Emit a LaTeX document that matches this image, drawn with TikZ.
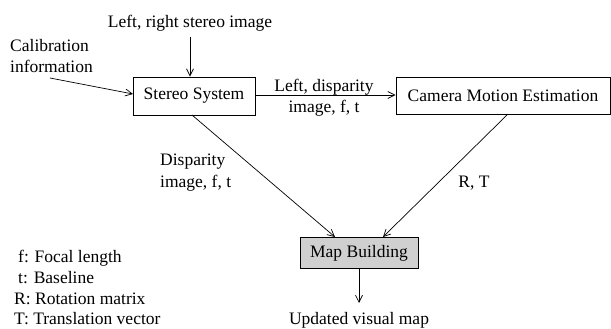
\documentclass[tikz,border=0pt]{standalone}
\usepackage{fontspec}
\setmainfont{Liberation Serif}
\usetikzlibrary{arrows.meta}
\begin{document}
\begin{tikzpicture}[x=1pt,y=-1pt,
  every node/.style={font=\fontsize{17.5}{21}\selectfont},
  box/.style={draw,line width=0.9pt,inner sep=0pt,anchor=center},
  txt/.style={inner sep=0pt},
  arr/.style={line width=0.7pt,-{Straight Barb[length=7pt,width=7pt,line width=0.7pt]}}]
\useasboundingbox (0,0) rectangle (611,329);
% boxes
\node[box,minimum width=122pt,minimum height=38pt] (ss) at (194,96) {Stereo System};
\node[box,minimum width=214pt,minimum height=37pt] (cme) at (503,95.5) {Camera Motion Estimation};
\node[box,fill={rgb,255:red,208;green,208;blue,208},minimum width=118pt,minimum height=31pt] (mb) at (359,253) {Map Building};
% inputs
\node[txt,anchor=base] (lr) at (190,28) {Left, right stereo image};
\coordinate (lrs) at (190,37);
\draw[arr] (lrs) -- (lrs |- ss.north);
\node[txt,anchor=base west] (cal1) at (10,52) {Calibration};
\node[txt,anchor=base west] (cal2) at (10,73) {information};
\coordinate (cals) at (50,78);
\coordinate (cale) at (133,94);
\draw[arr] (cals) -- (cale);
% ss -> cme
\draw[arr] (ss.east |- 0,95) -- (cme.west |- 0,95);
\node[txt,anchor=base] (l1) at (324,92) {Left, disparity};
\node[txt,anchor=base] (l2) at (324,113) {image, f, t};
% to map building
\coordinate (ssb) at (192,115);
\coordinate (mbl) at (335,237);
\draw[arr] (ssb) -- (mbl);
\coordinate (cmeb) at (508,114);
\coordinate (mbr) at (383,237);
\draw[arr] (cmeb) -- (mbr);
\node[txt,anchor=base west] (d1) at (160,165) {Disparity};
\node[txt,anchor=base west] (d2) at (160,187) {image, f, t};
\node[txt,anchor=base] (rt) at (474,187) {R, T};
% output
\coordinate (out) at (359,303);
\draw[arr] (mb.south) -- (out);
\node[txt,anchor=base] (upd) at (359,324.5) {Updated visual map};
% legend
\node[txt,anchor=base west] (g1) at (18,262) {f: Focal length};
\node[txt,anchor=base west] (g2) at (18,283.5) {t: Baseline};
\node[txt,anchor=base west] (g3) at (14,304) {R: Rotation matrix};
\node[txt,anchor=base west] (g4) at (14,324.5) {T: Translation vector};
\end{tikzpicture}
\end{document}
